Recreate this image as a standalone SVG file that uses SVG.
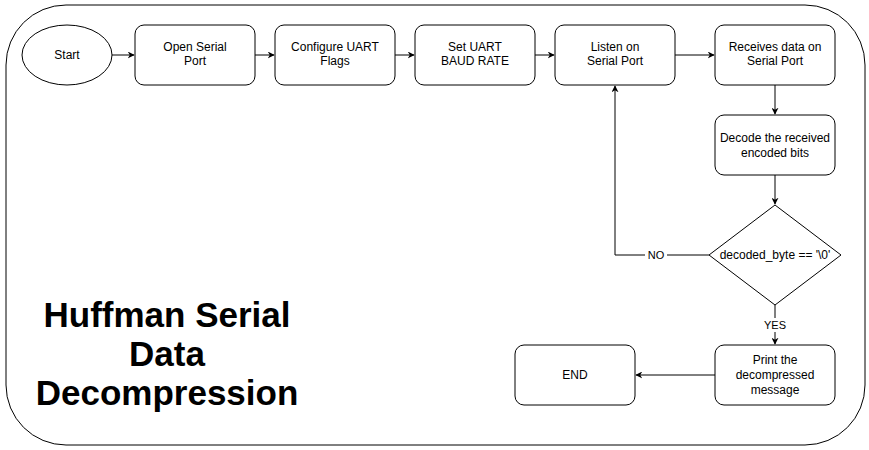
<svg xmlns="http://www.w3.org/2000/svg" width="869" height="450" viewBox="0 0 869 450">
<defs>
<style>
.n{fill:#fff;stroke:#000;stroke-width:1}
.t{font-family:"Liberation Sans",Arial,sans-serif;font-size:12px;fill:#000;text-anchor:middle}
.c{fill:none;stroke:#000;stroke-width:1}
.lbl{font-family:"Liberation Sans",Arial,sans-serif;font-size:11px;fill:#000;text-anchor:middle}
.title{font-family:"Liberation Sans",Arial,sans-serif;font-size:35px;font-weight:bold;fill:#000;text-anchor:middle}
</style>
<marker id="a" viewBox="0 0 10 10" refX="9" refY="5" markerWidth="7" markerHeight="7" orient="auto" markerUnits="userSpaceOnUse">
<path d="M0,0 L10,5 L0,10 L3,5 Z" fill="#000"/>
</marker>
</defs>
<rect width="869" height="450" fill="#fff"/>
<g id="frame"><rect x="6" y="5" width="859" height="440" rx="60" ry="60" class="n" fill="none"/></g>
<g id="title"><text class="title" x="167" y="327">Huffman Serial</text><text class="title" x="167" y="366">Data</text><text class="title" x="167" y="405">Decompression</text></g>
<g id="connectors">
<path class="c" d="M112,55 H134" marker-end="url(#a)"/>
<path class="c" d="M255,55 H274" marker-end="url(#a)"/>
<path class="c" d="M395,55 H414" marker-end="url(#a)"/>
<path class="c" d="M535,55 H554" marker-end="url(#a)"/>
<path class="c" d="M675,55 H714" marker-end="url(#a)"/>
<path class="c" d="M775,85 V114" marker-end="url(#a)"/>
<path class="c" d="M775,175 V204" marker-end="url(#a)"/>
<path class="c" d="M709,255 H615 V86" marker-end="url(#a)"/>
<path class="c" d="M775,305 V344" marker-end="url(#a)"/>
<path class="c" d="M715,375 H636" marker-end="url(#a)"/>
<rect x="645" y="248" width="22" height="14" fill="#fff"/>
<text class="lbl" x="656" y="259">NO</text>
<rect x="762" y="318" width="26" height="14" fill="#fff"/>
<text class="lbl" x="775" y="329">YES</text>
</g>
<g id="start"><ellipse cx="67" cy="55" rx="45" ry="30" class="n"/><text class="t" x="67" y="59">Start</text></g>
<g id="open"><rect x="135" y="25" width="120" height="60" rx="9" class="n"/><text class="t" x="195" y="51">Open Serial</text><text class="t" x="195" y="65">Port</text></g>
<g id="config"><rect x="275" y="25" width="120" height="60" rx="9" class="n"/><text class="t" x="335" y="51">Configure UART</text><text class="t" x="335" y="65">Flags</text></g>
<g id="baud"><rect x="415" y="25" width="120" height="60" rx="9" class="n"/><text class="t" x="475" y="51">Set UART</text><text class="t" x="475" y="65">BAUD RATE</text></g>
<g id="listen"><rect x="555" y="25" width="120" height="60" rx="9" class="n"/><text class="t" x="615" y="51">Listen on</text><text class="t" x="615" y="65">Serial Port</text></g>
<g id="receive"><rect x="715" y="25" width="120" height="60" rx="9" class="n"/><text class="t" x="775" y="51">Receives data on</text><text class="t" x="775" y="65">Serial Port</text></g>
<g id="decode"><rect x="715" y="115" width="120" height="60" rx="9" class="n"/><text class="t" x="775" y="142">Decode the received</text><text class="t" x="775" y="157">encoded bits</text></g>
<g id="decision"><path d="M775,205 L841,255 L775,305 L709,255 Z" class="n"/><text class="t" x="775" y="259">decoded_byte == '\0'</text></g>
<g id="print"><rect x="715" y="345" width="120" height="60" rx="9" class="n"/><text class="t" x="775" y="364">Print the</text><text class="t" x="775" y="379">decompressed</text><text class="t" x="775" y="394">message</text></g>
<g id="end"><rect x="515" y="345" width="120" height="60" rx="9" class="n"/><text class="t" x="575" y="379">END</text></g>
</svg>
